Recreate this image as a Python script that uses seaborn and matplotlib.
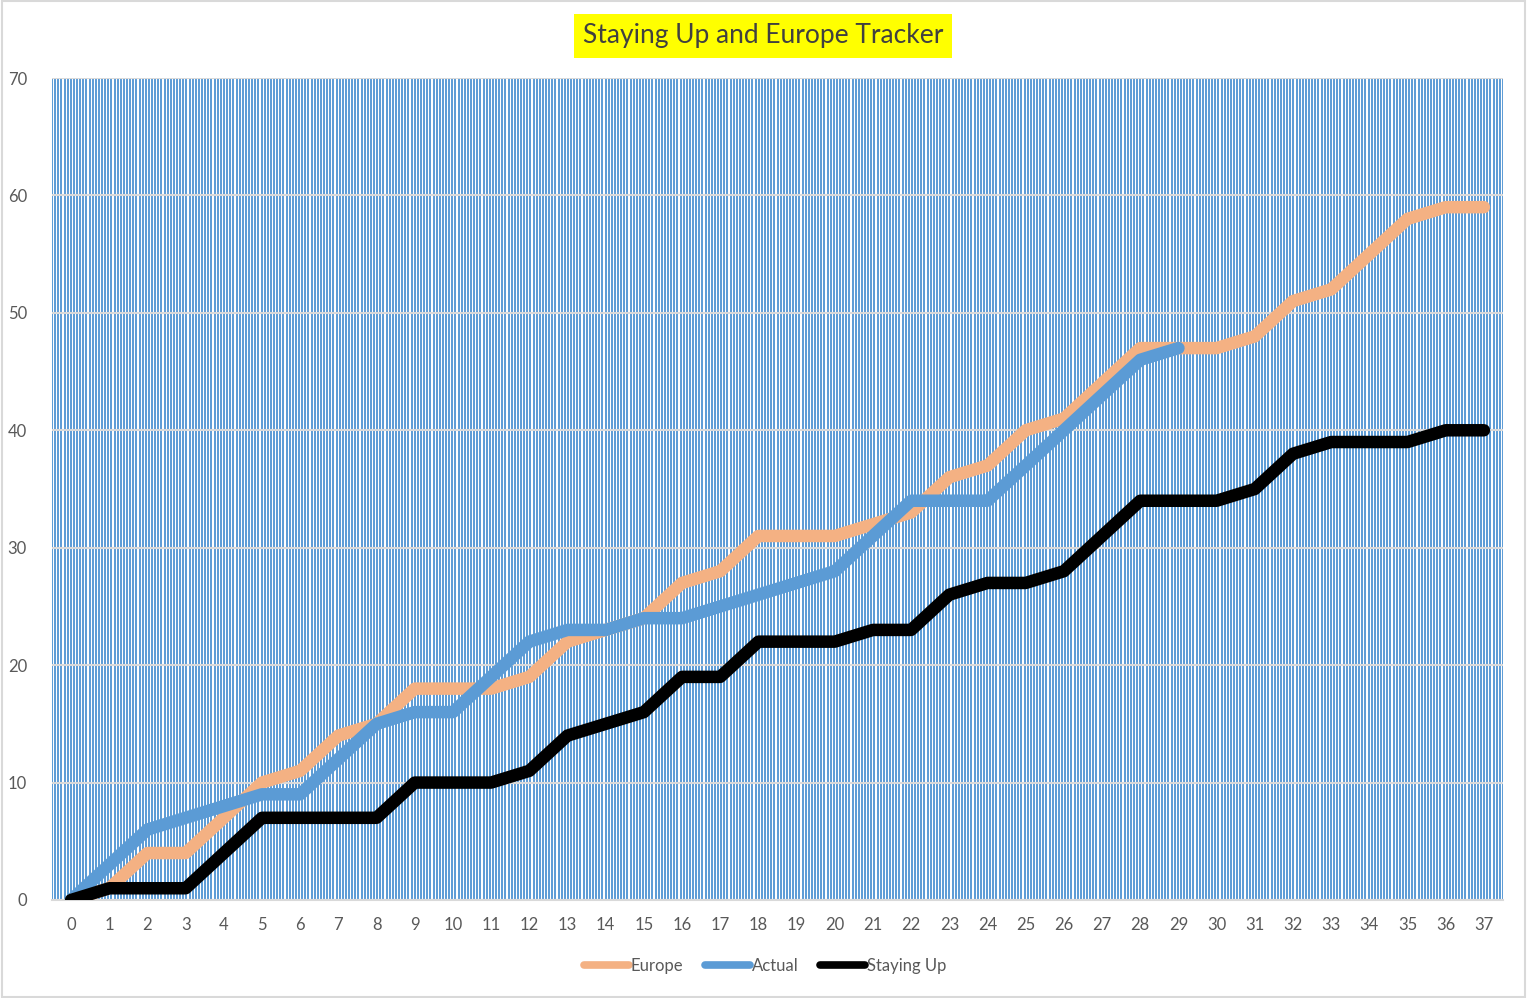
import numpy as np
import pandas as pd
import matplotlib
matplotlib.use("Agg")
import matplotlib.pyplot as plt
from matplotlib.patches import Rectangle
import seaborn as sns

# ---- data ----
weeks = list(range(0, 38))
europe = [0, 1, 4, 4, 7, 10, 11, 14, 15, 18, 18, 18, 19, 22, 23, 24, 27, 28, 31, 31,
          31, 32, 33, 36, 37, 40, 41, 44, 47, 47, 47, 48, 51, 52, 55, 58, 59, 59]
actual = [0, 3, 6, 7, 8, 9, 9, 12, 15, 16, 16, 19, 22, 23, 23, 24, 24, 25, 26, 27,
          28, 31, 34, 34, 34, 37, 40, 43, 46, 47]
staying_up = [0, 1, 1, 1, 4, 7, 7, 7, 7, 10, 10, 10, 11, 14, 15, 16, 19, 19, 22, 22,
              22, 23, 23, 26, 27, 27, 28, 31, 34, 34, 34, 35, 38, 39, 39, 39, 40, 40]
series_names = ["Europe", "Actual", "Staying Up"]
series_colors = ["#f4b183", "#5b9bd5", "#000000"]
yticks = [0, 10, 20, 30, 40, 50, 60, 70]
title = "Staying Up and Europe Tracker"

sns.set_style("white")
plt.rcParams["font.family"] = ["Lato", "DejaVu Sans"]

fig = plt.figure(figsize=(15.27, 9.98), dpi=100)
ax = fig.add_axes([52 / 1527, 1 - 900 / 998, (1503 - 52) / 1527, (900 - 78) / 998])

# striped background
xs = np.linspace(-0.5, 37.5, 465)
ax.vlines(xs, 0, 70, colors="#5b9bd5", linewidth=1.4, zorder=0.3)

data = [europe, actual, staying_up]
for name, vals, col in zip(series_names, data, series_colors):
    df = pd.DataFrame({"week": weeks[:len(vals)], "points": vals})
    sns.lineplot(data=df, x="week", y="points", ax=ax, color=col, linewidth=9,
                 label=name, solid_capstyle="round", solid_joinstyle="round",
                 zorder=3, legend=False)

ax.set_xlim(-0.5, 37.5)
ax.set_ylim(0, 70)
ax.set_xticks(weeks)
ax.set_yticks(yticks)
ax.set_axisbelow(True)
ax.yaxis.grid(True, color="#d9d9d9", linewidth=1.5)
ax.xaxis.grid(False)
for s in ["left", "right", "top"]:
    ax.spines[s].set_visible(False)
ax.spines["bottom"].set_color("#d9d9d9")
ax.spines["bottom"].set_linewidth(1.5)
ax.tick_params(axis="both", length=0, labelsize=12, colors="#595959")
ax.tick_params(axis="x", pad=12)
ax.tick_params(axis="y", pad=18)
ax.set_xlabel("")
ax.set_ylabel("")

fig.text(763 / 1527, 1 - 36 / 998, title, ha="center", va="center", fontsize=19,
         color="#404040",
         bbox=dict(boxstyle="square,pad=0.35", facecolor="#ffff00", edgecolor="none"))

handles, labels = ax.get_legend_handles_labels()
leg = fig.legend(handles, labels, loc="center", bbox_to_anchor=(765 / 1527, 1 - 966 / 998),
                 ncol=3, frameon=False, fontsize=12, handlelength=2.7, handletextpad=0.1,
                 columnspacing=1.3)
for t in leg.get_texts():
    t.set_color("#595959")
for h in leg.legend_handles:
    h.set_linewidth(5.5)
    h.set_solid_capstyle("round")

fig.patches.append(Rectangle((0.001, 0.001), 0.998, 0.998, transform=fig.transFigure,
                             fill=False, edgecolor="#d9d9d9", linewidth=1.5))

fig.savefig("out.png", dpi=100)
